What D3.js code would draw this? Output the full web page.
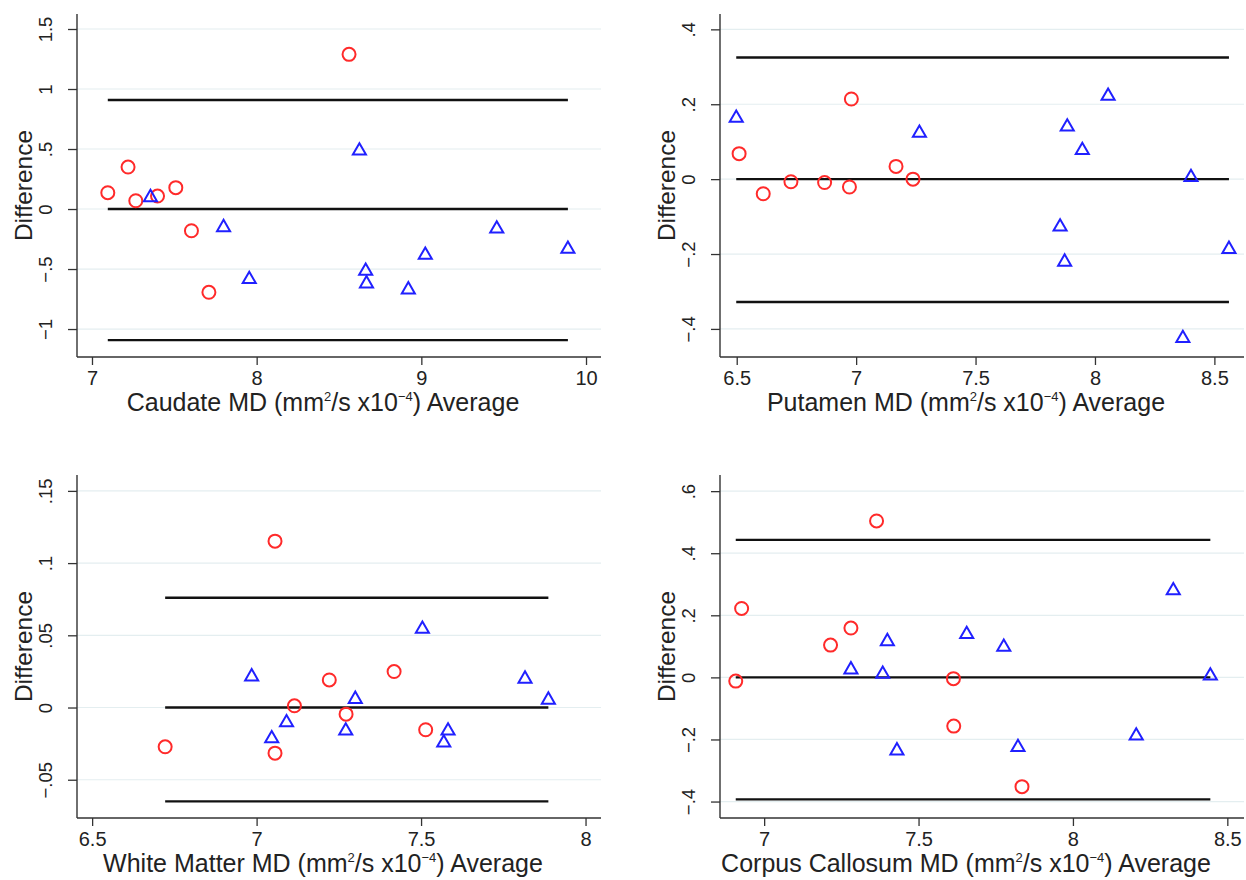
<!DOCTYPE html>
<html>
<head>
  <meta charset="utf-8">
  <script src="https://d3js.org/d3.v7.min.js"></script>
  <style>
    body { margin: 0; background: #fff; }
    text { font-family: "Liberation Sans", Arial, sans-serif; fill: #222; }
  </style>
</head>
<body>
<script>
// axis titles
var regionNames = ["Caudate MD", "Putamen MD", "White Matter MD", "Corpus Callosum MD"];

// caudate
var caudateCircAvg  = [8.561, 7.096, 7.219, 7.266, 7.398, 7.509, 7.604, 7.710];
var caudateCircDiff = [1.289, 0.136, 0.350, 0.069, 0.108, 0.178, -0.181, -0.694];
var caudateTriAvg   = [7.355, 7.799, 7.955, 8.624, 8.662, 8.667, 8.921, 9.024, 9.458, 9.890];
var caudateTriDiff  = [0.097, -0.153, -0.586, 0.486, -0.517, -0.622, -0.672, -0.383, -0.164, -0.333];
var caudateLines    = [0.908, 0, -1.092];

// putamen
var putamenCircAvg  = [6.980, 6.510, 6.611, 6.727, 6.868, 6.972, 7.167, 7.238];
var putamenCircDiff = [0.214, 0.068, -0.039, -0.007, -0.009, -0.021, 0.034, 0.000];
var putamenTriAvg   = [6.498, 7.265, 7.854, 7.884, 7.873, 7.947, 8.055, 8.402, 8.368, 8.561];
var putamenTriDiff  = [0.163, 0.123, -0.127, 0.140, -0.221, 0.077, 0.222, 0.005, -0.425, -0.187];
var putamenLines    = [0.325, 0, -0.328];

// white matter
var wmCircAvg  = [7.056, 6.722, 7.056, 7.115, 7.221, 7.272, 7.418, 7.514];
var wmCircDiff = [0.1152, -0.0272, -0.0316, 0.0012, 0.0191, -0.0046, 0.0249, -0.0154];
var wmTriAvg   = [6.985, 7.046, 7.091, 7.271, 7.300, 7.504, 7.582, 7.569, 7.816, 7.887];
var wmTriDiff  = [0.0214, -0.0214, -0.0104, -0.0161, 0.0058, 0.0544, -0.0161, -0.0244, 0.0198, 0.0053];
var wmLines    = [0.076, 0, -0.065];

// corpus callosum
var ccCircAvg  = [7.364, 6.927, 6.908, 7.215, 7.281, 7.613, 7.614, 7.835];
var ccCircDiff = [0.504, 0.222, -0.012, 0.104, 0.159, -0.004, -0.157, -0.352];
var ccTriAvg   = [7.281, 7.384, 7.399, 7.430, 7.656, 7.776, 7.822, 8.205, 8.325, 8.445];
var ccTriDiff  = [0.025, 0.011, 0.116, -0.236, 0.139, 0.098, -0.225, -0.188, 0.280, 0.005];
var ccLines    = [0.443, 0, -0.393];

// ticks
var caudateXTicks = [7, 8, 9, 10];
var caudateYTicks = [-1, -0.5, 0, 0.5, 1, 1.5];
var caudateYLabels = ["\u22121", "\u2212.5", "0", ".5", "1", "1.5"];
var putamenXTicks = [6.5, 7, 7.5, 8, 8.5];
var putamenYTicks = [-0.4, -0.2, 0, 0.2, 0.4];
var putamenYLabels = ["\u2212.4", "\u2212.2", "0", ".2", ".4"];
var wmXTicks = [6.5, 7, 7.5, 8];
var wmYTicks = [-0.05, 0, 0.05, 0.1, 0.15];
var wmYLabels = ["\u2212.05", "0", ".05", ".1", ".15"];
var ccXTicks = [7, 7.5, 8, 8.5];
var ccYTicks = [-0.4, -0.2, 0, 0.2, 0.4, 0.6];
var ccYLabels = ["\u2212.4", "\u2212.2", "0", ".2", ".4", ".6"];

// axis ranges
var caudateXDom = [6.909, 10.091], caudateYDom = [-1.233, 1.625];
var putamenXDom = [6.430, 8.624], putamenYDom = [-0.475, 0.441];
var wmXDom = [6.454, 8.047], wmYDom = [-0.0765, 0.161];
var ccXDom = [6.857, 8.554], ccYDom = [-0.453, 0.652];

var panels = [
  {name: regionNames[0], left: 77, top: 14, cx: caudateCircAvg, cy: caudateCircDiff, tx: caudateTriAvg, ty: caudateTriDiff,
   lines: caudateLines, xt: caudateXTicks, yt: caudateYTicks, yl: caudateYLabels, xd: caudateXDom, yd: caudateYDom},
  {name: regionNames[1], left: 720, top: 14, cx: putamenCircAvg, cy: putamenCircDiff, tx: putamenTriAvg, ty: putamenTriDiff,
   lines: putamenLines, xt: putamenXTicks, yt: putamenYTicks, yl: putamenYLabels, xd: putamenXDom, yd: putamenYDom},
  {name: regionNames[2], left: 77, top: 475, cx: wmCircAvg, cy: wmCircDiff, tx: wmTriAvg, ty: wmTriDiff,
   lines: wmLines, xt: wmXTicks, yt: wmYTicks, yl: wmYLabels, xd: wmXDom, yd: wmYDom},
  {name: regionNames[3], left: 720, top: 475, cx: ccCircAvg, cy: ccCircDiff, tx: ccTriAvg, ty: ccTriDiff,
   lines: ccLines, xt: ccXTicks, yt: ccYTicks, yl: ccYLabels, xd: ccXDom, yd: ccYDom}
];

var pw = 524, ph = 343;

var svg = d3.select("body").append("svg")
  .attr("width", 1246)
  .attr("height", 880);

panels.forEach(function(p) {
  var g = svg.append("g").attr("transform", "translate(" + p.left + "," + p.top + ")");
  var x = d3.scaleLinear().domain(p.xd).range([0, pw]);
  var y = d3.scaleLinear().domain(p.yd).range([ph, 0]);

  // grid
  g.selectAll("line.grid").data(p.yt).enter().append("line")
    .attr("class", "grid")
    .attr("x1", 0).attr("x2", pw)
    .attr("y1", function(d) { return y(d); })
    .attr("y2", function(d) { return y(d); })
    .style("stroke", "#e4eef0").style("stroke-width", 1.2);

  // bland-altman lines over the range of averages
  var ext = d3.extent(p.cx.concat(p.tx));
  g.selectAll("line.ref").data(p.lines).enter().append("line")
    .attr("class", "ref")
    .attr("x1", x(ext[0])).attr("x2", x(ext[1]))
    .attr("y1", function(d) { return y(d); })
    .attr("y2", function(d) { return y(d); })
    .style("stroke", "#111").style("stroke-width", 2.4);

  // axes
  var yAxis = d3.axisLeft(y).tickValues(p.yt).tickSize(9).tickPadding(0)
    .tickFormat(function(d, i) { return p.yl[i]; });
  var ya = g.append("g").call(yAxis);
  ya.select(".domain").attr("d", "M0,0V" + ph).style("stroke", "#333").style("stroke-width", 1.4);
  ya.selectAll(".tick line").style("stroke", "#333").style("stroke-width", 1.3);
  ya.selectAll(".tick text")
    .attr("x", 0).attr("dy", null).attr("y", 0)
    .attr("transform", "translate(-25,0) rotate(-90)")
    .style("text-anchor", "middle")
    .style("font-size", "18.5px").style("fill", "#222");

  var xAxis = d3.axisBottom(x).tickValues(p.xt).tickSize(8).tickPadding(0)
    .tickFormat(d3.format("~g"));
  var xa = g.append("g").attr("transform", "translate(0," + ph + ")").call(xAxis);
  xa.select(".domain").attr("d", "M0,0H" + pw).style("stroke", "#333").style("stroke-width", 1.4);
  xa.selectAll(".tick line").style("stroke", "#333").style("stroke-width", 1.3);
  xa.selectAll(".tick text").attr("dy", null).attr("y", 28)
    .style("font-size", "20px").style("fill", "#222");

  // points
  var circ = p.cx.map(function(v, i) { return [v, p.cy[i]]; });
  g.selectAll("circle.pt").data(circ).enter().append("circle")
    .attr("class", "pt")
    .attr("cx", function(d) { return x(d[0]); })
    .attr("cy", function(d) { return y(d[1]); })
    .attr("r", 6.5)
    .style("fill", "none").style("stroke", "#ff2a2a").style("stroke-width", 2);

  var tri = p.tx.map(function(v, i) { return [v, p.ty[i]]; });
  g.selectAll("path.pt").data(tri).enter().append("path")
    .attr("class", "pt")
    .attr("d", d3.symbol().type(d3.symbolTriangle).size(74))
    .attr("transform", function(d) { return "translate(" + x(d[0]) + "," + y(d[1]) + ")"; })
    .style("fill", "none").style("stroke", "#2020ff").style("stroke-width", 2);

  // titles
  g.append("text")
    .attr("transform", "translate(-45," + (ph / 2) + ") rotate(-90)")
    .style("text-anchor", "middle")
    .style("font-size", "24.5px")
    .text("Difference");

  var t = g.append("text")
    .attr("x", pw / 2 - 16).attr("y", ph + 54)
    .style("text-anchor", "middle")
    .style("font-size", "25px");
  t.append("tspan").text(p.name + " (mm");
  t.append("tspan").attr("dy", -10).style("font-size", "13px").text("2");
  t.append("tspan").attr("dy", 10).text("/s x10");
  t.append("tspan").attr("dy", -10).style("font-size", "13px").text("\u22124");
  t.append("tspan").attr("dy", 10).text(") Average");
});
</script>
</body>
</html>
